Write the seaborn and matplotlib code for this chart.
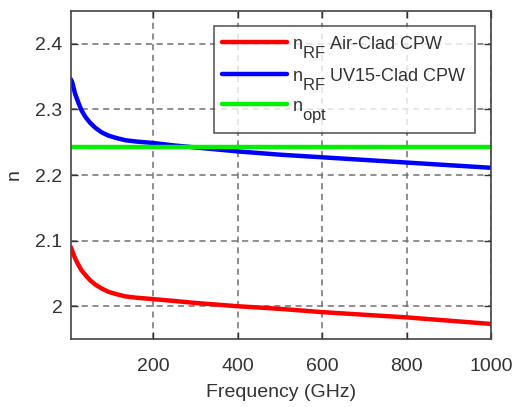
import pandas as pd
import matplotlib
matplotlib.use('Agg')
import matplotlib.pyplot as plt
import matplotlib._mathtext as mtext
import seaborn as sns

# Índice de refração RF e óptico em função da frequência
freq = [5, 8, 15, 23, 30, 39, 50, 63, 78, 94, 115, 134, 160, 197, 250, 300,
        400, 500, 600, 700, 800, 900, 1000]
n_air = [2.090, 2.085, 2.073, 2.063, 2.055, 2.048, 2.040, 2.033, 2.027, 2.022,
         2.018, 2.015, 2.013, 2.011, 2.008, 2.005, 2.000, 1.996, 1.991, 1.987,
         1.983, 1.978, 1.973]
n_uv15 = [2.346, 2.342, 2.324, 2.310, 2.299, 2.289, 2.280, 2.272, 2.265, 2.260,
          2.256, 2.253, 2.251, 2.249, 2.245, 2.242, 2.236, 2.231, 2.227, 2.223,
          2.219, 2.215, 2.211]
n_opt = [2.243] * len(freq)

labels = [r'n$_{\mathregular{RF}}$ Air-Clad CPW',
          r'n$_{\mathregular{RF}}$ UV15-Clad CPW',
          r'n$_{\mathregular{opt}}$']
cores = ['#ff0000', '#0000ff', '#00f000']

# Subscritos grandes e bem abaixados, estilo MATLAB
mtext.SHRINK_FACTOR = 0.92
mtext.FontConstantsBase.sub1 = 0.9
mtext.FontConstantsBase.subdrop = 0.9

sns.set_style('ticks')
plt.rcParams['font.family'] = ['Liberation Sans', 'DejaVu Sans']
plt.rcParams['mathtext.fontset'] = 'custom'
plt.rcParams['mathtext.rm'] = 'Liberation Sans'
plt.rcParams['mathtext.it'] = 'Liberation Sans'

dt = pd.DataFrame({'Frequency': freq * 3,
                   'n': n_air + n_uv15 + n_opt,
                   'Serie': [labels[0]] * len(freq) + [labels[1]] * len(freq)
                   + [labels[2]] * len(freq)})

fig = plt.figure(figsize=(5.17, 4.07), dpi=100)
ax = fig.add_axes([0.137, 0.167, 0.813, 0.806])
sns.lineplot(data=dt, x='Frequency', y='n', hue='Serie', palette=dict(zip(labels, cores)),
             linewidth=3.2, ax=ax, legend=True)

ax.set_xlim(5, 1000)
ax.set_ylim(1.95, 2.45)
ax.set_xticks([200, 400, 600, 800, 1000])
ax.set_yticks([2.0, 2.1, 2.2, 2.3, 2.4])
ax.set_yticklabels(['2', '2.1', '2.2', '2.3', '2.4'])
ax.grid(True, color='#707070', linestyle=(0, (4, 3)), linewidth=1.1)
ax.tick_params(direction='in', top=True, right=True, labelsize=14, colors='#333333',
               length=5, width=1)
ax.tick_params(axis='x', pad=14)
ax.tick_params(axis='y', pad=6)
for s in ax.spines.values():
    s.set_color('#444444')
    s.set_linewidth(1.2)
ax.set_xlabel('Frequency (GHz)', fontsize=14, color='#333333', labelpad=6)
ax.set_ylabel('n', fontsize=14, color='#333333', labelpad=9)

leg = ax.legend(loc='upper right', bbox_to_anchor=(0.962, 0.954), borderaxespad=0,
                fontsize=13, frameon=True, fancybox=False, edgecolor='#333333',
                handlelength=3.6, handleheight=0.9, labelspacing=0.3, borderpad=0.45,
                handletextpad=0.3)
leg.get_frame().set_linewidth(1.2)
for t in leg.get_texts():
    t.set_color('#333333')

plt.savefig('out.png', dpi=100)
plt.close()
